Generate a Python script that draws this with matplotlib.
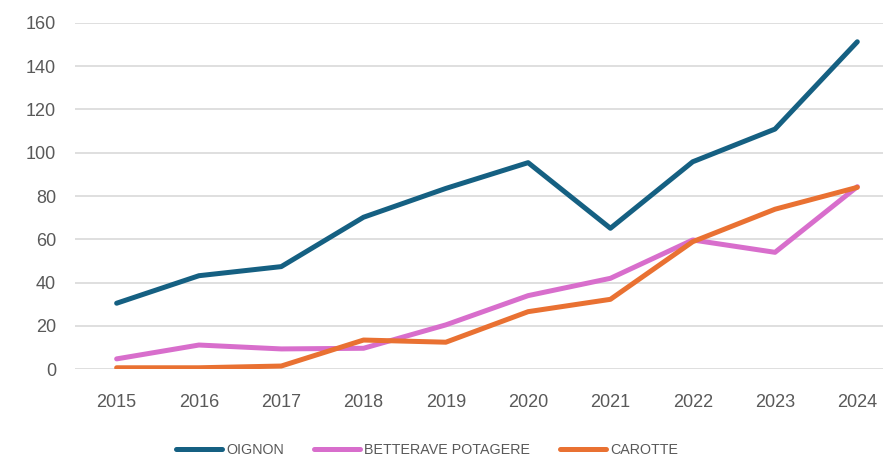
import numpy as np
import matplotlib
matplotlib.use("Agg")
import matplotlib.pyplot as plt

years = ["2015", "2016", "2017", "2018", "2019", "2020", "2021", "2022", "2023", "2024"]
oignon = [30.5, 43.2, 47.4, 70.2, 83.5, 95.4, 65.1, 95.8, 110.9, 151.2]
betterave = [4.8, 11.2, 9.4, 9.7, 20.5, 34.0, 42.0, 59.7, 54.0, 84.3]
carotte = [0.7, 0.7, 1.5, 13.5, 12.5, 26.6, 32.3, 58.9, 73.9, 84.0]

plt.rcParams['font.family'] = ['Liberation Sans', 'DejaVu Sans']

fig = plt.figure(figsize=(8.83, 4.58), dpi=100)
# axes runs slightly past the right edge of the figure, like the cropped original
ax = fig.add_axes([0.0855, 0.1937, 0.932, 0.7567])

x = np.arange(len(years))
ax.plot(x, oignon, color='#156082', lw=3.6, label='OIGNON', solid_capstyle='round', solid_joinstyle='round')
ax.plot(x, betterave, color='#D86ECC', lw=3.6, label='BETTERAVE POTAGERE', solid_capstyle='round', solid_joinstyle='round')
ax.plot(x, carotte, color='#E97132', lw=3.6, label='CAROTTE', solid_capstyle='round', solid_joinstyle='round')

ax.set_xlim(-0.5, 9.5)
ax.set_ylim(0, 160)
ax.set_yticks(range(0, 161, 20))
ax.set_xticks(x)
ax.set_xticklabels(years)
ax.grid(axis='y', color='#D9D9D9', lw=1.2)
ax.set_axisbelow(True)
for s in ax.spines.values():
    s.set_visible(False)
ax.tick_params(length=0, labelsize=13, labelcolor='#595959')
ax.tick_params(axis='y', pad=14)
ax.tick_params(axis='x', pad=18)

leg = fig.legend(loc='center', bbox_to_anchor=(0.484, 0.017), ncol=3, frameon=False,
                 fontsize=10.3, labelcolor='#595959', handlelength=3.2, handletextpad=0.3,
                 columnspacing=2.1)

fig.savefig('out.png', dpi=100)
